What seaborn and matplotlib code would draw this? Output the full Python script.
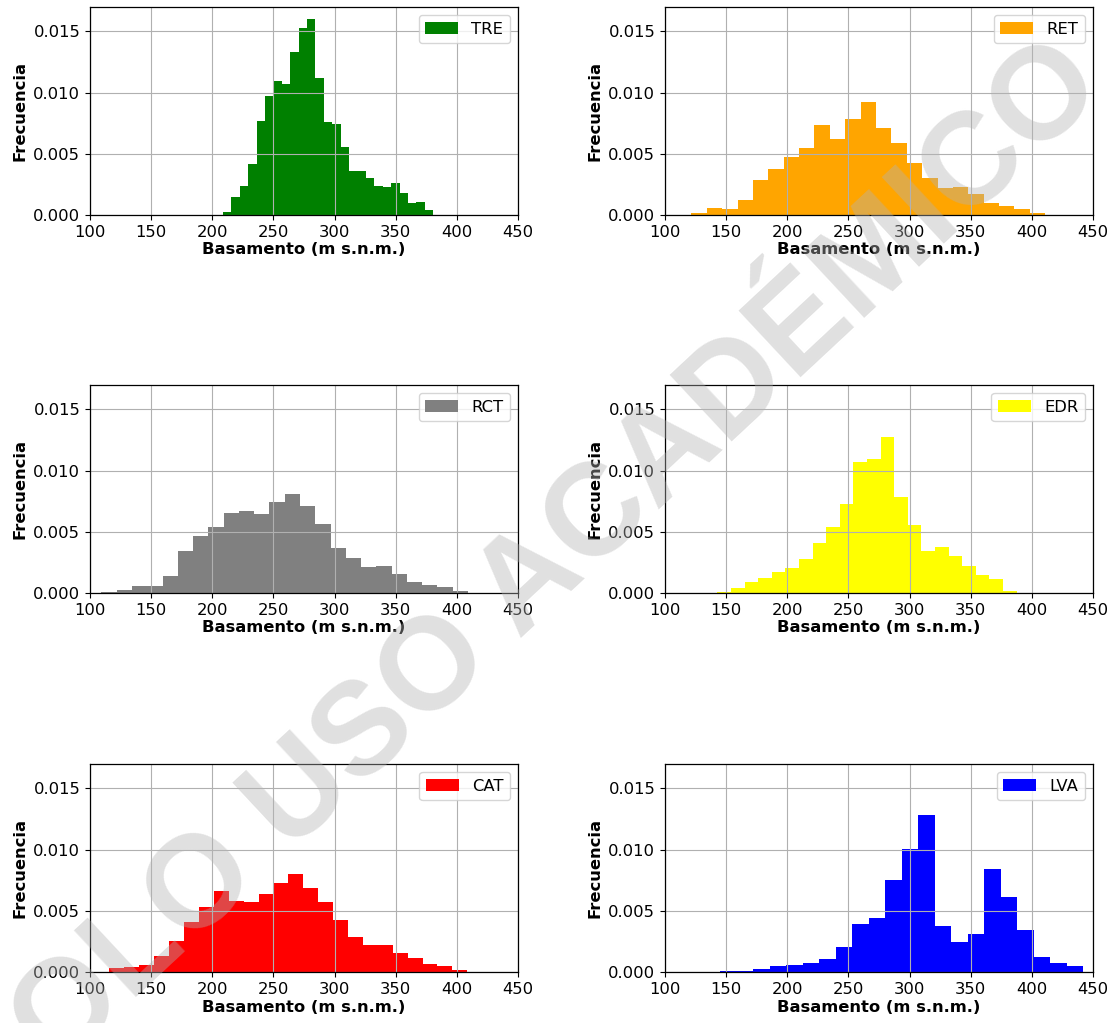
import numpy as np
import pandas as pd
import matplotlib
matplotlib.use("Agg")
import matplotlib.pyplot as plt
from matplotlib.patches import Patch
import seaborn as sns

# Basement elevation histograms (density) for each unit
names = ["TRE", "RET", "RCT", "EDR", "CAT", "LVA"]
colors = ["green", "orange", "gray", "yellow", "red", "blue"]

# bin range (m s.n.m.) per unit
tre_range = (208.8, 380.6)
ret_range = (121.6, 410.9)
rct_range = (109.4, 409.1)
edr_range = (131.7, 387.6)
cat_range = (115.9, 408.5)
lva_range = (145.1, 442.1)

# density per bin
tre_density = [0.00025, 0.00145, 0.00238, 0.00416, 0.00772, 0.00974, 0.01095,
               0.01073, 0.01333, 0.01527, 0.01601, 0.01117, 0.00761, 0.00742,
               0.00556, 0.00356, 0.00356, 0.00301, 0.00233, 0.00227, 0.00260,
               0.00178, 0.00099, 0.00107, 0.00041]
ret_density = [0.00019, 0.00058, 0.00049, 0.00121, 0.00286, 0.00374, 0.00475,
               0.00547, 0.00734, 0.00621, 0.00788, 0.00923, 0.00714, 0.00588,
               0.00426, 0.00302, 0.00217, 0.00231, 0.00173, 0.00096, 0.00071,
               0.00052, 0.00016]
rct_density = [0.00005, 0.00022, 0.00055, 0.00058, 0.00137, 0.00341, 0.00467,
               0.00538, 0.00657, 0.00668, 0.00643, 0.00742, 0.00813, 0.00712,
               0.00560, 0.00368, 0.00288, 0.00214, 0.00220, 0.00157, 0.00091,
               0.00066, 0.00049, 0.00019]
edr_density = [0.00003, 0.00008, 0.00044, 0.00088, 0.00126, 0.00170, 0.00205,
               0.00274, 0.00411, 0.00540, 0.00729, 0.01074, 0.01093, 0.01274,
               0.00786, 0.00553, 0.00340, 0.00375, 0.00299, 0.00222, 0.00145,
               0.00118, 0.00016]
cat_density = [0.00036, 0.00039, 0.00056, 0.00128, 0.00253, 0.00406, 0.00533,
               0.00661, 0.00578, 0.00572, 0.00636, 0.00725, 0.00803, 0.00686,
               0.00572, 0.00422, 0.00289, 0.00217, 0.00222, 0.00156, 0.00111,
               0.00069, 0.00053, 0.00019]
lva_density = [0.00011, 0.00011, 0.00022, 0.00049, 0.00057, 0.00077, 0.00107,
               0.00202, 0.00393, 0.00445, 0.00751, 0.01008, 0.01281, 0.00380,
               0.00243, 0.00309, 0.00839, 0.00612, 0.00344, 0.00123, 0.00071,
               0.00049]

ranges = [tre_range, ret_range, rct_range, edr_range, cat_range, lva_range]
densities = [tre_density, ret_density, rct_density, edr_density, cat_density, lva_density]

x_ticks = [100, 150, 200, 250, 300, 350, 400, 450]
y_ticks = [0.000, 0.005, 0.010, 0.015]

FS = 11.8
plt.rcParams["font.family"] = ["DejaVu Sans"]
plt.rcParams["axes.axisbelow"] = "line"

fig = plt.figure(figsize=(11.15, 10.23), dpi=100)
W, H = 1115, 1023
lefts = [90, 665]
bottoms = [215, 593, 972]
aw, ah = 428, 208

for i, (name, col, rng, dens) in enumerate(zip(names, colors, ranges, densities)):
    r, c = divmod(i, 2)
    ax = fig.add_axes([lefts[c] / W, 1 - bottoms[r] / H, aw / W, ah / H])
    edges = np.linspace(rng[0], rng[1], len(dens) + 1)
    df = pd.DataFrame({"elev": (edges[:-1] + edges[1:]) / 2,
                       "dens": np.asarray(dens, dtype=float)})
    sns.histplot(data=df, x="elev", weights="dens", bins=edges.tolist(),
                 stat="count", element="step", fill=True, color=col,
                 alpha=1.0, linewidth=0, ax=ax)
    ax.set_xlim(100, 450)
    ax.set_ylim(0, 0.017)
    ax.set_xticks(x_ticks)
    ax.set_yticks(y_ticks)
    ax.set_yticklabels([f"{v:.3f}" for v in y_ticks])
    ax.tick_params(labelsize=FS, length=3.5, width=0.8)
    ax.grid(True, color="#b0b0b0", linewidth=0.8)
    for s in ax.spines.values():
        s.set_linewidth(0.9)
        s.set_color("black")
    ax.set_xlabel("Basamento (m s.n.m.)", fontsize=FS, fontweight="bold", labelpad=2)
    ax.set_ylabel("Frecuencia", fontsize=FS, fontweight="bold")
    ax.legend(handles=[Patch(facecolor=col, edgecolor="none")], labels=[name],
              loc="upper right", fontsize=FS)

# diagonal watermark across the whole figure
fig.text(0.472, 0.427, "SOLO USO ACADÉMICO", rotation=43, fontsize=94,
         fontweight="bold", family="Liberation Sans", color=(0.70, 0.70, 0.70),
         alpha=0.40, ha="center", va="center", rotation_mode="anchor", zorder=20)

fig.savefig("out.png", dpi=100)
